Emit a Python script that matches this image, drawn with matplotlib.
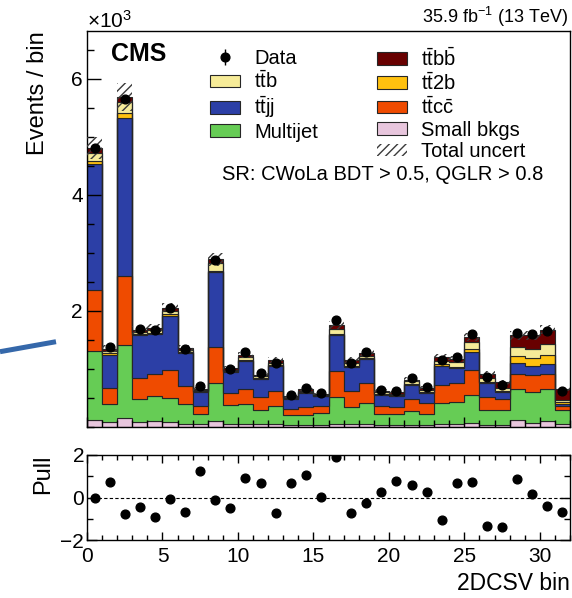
import numpy as np
import matplotlib
matplotlib.use("Agg")
import matplotlib.pyplot as plt
from matplotlib.lines import Line2D
from matplotlib.patches import Patch
from matplotlib.legend_handler import HandlerTuple
from matplotlib.ticker import MultipleLocator

plt.rcParams['font.family'] = ['Liberation Sans', 'DejaVu Sans']
plt.rcParams['mathtext.fontset'] = 'custom'
plt.rcParams['mathtext.rm'] = 'Liberation Sans'
plt.rcParams['mathtext.it'] = 'Liberation Sans:italic'
plt.rcParams['hatch.linewidth'] = 1.0

# 32 bins of the 2DCSV distribution, values in units of 10^3 events
bin_edges = np.arange(33)

small_bkgs = [0.12, 0.07, 0.14, 0.07, 0.09, 0.08, 0.05, 0.04, 0.09, 0.05, 0.05, 0.04, 0.05, 0.03, 0.03, 0.03,
              0.05, 0.04, 0.04, 0.03, 0.03, 0.03, 0.03, 0.04, 0.04, 0.06, 0.03, 0.03, 0.11, 0.06, 0.10, 0.05]
multijet = [1.19, 0.31, 1.27, 0.40, 0.44, 0.41, 0.33, 0.18, 0.66, 0.32, 0.33, 0.25, 0.31, 0.16, 0.17, 0.20,
            0.46, 0.30, 0.37, 0.18, 0.18, 0.23, 0.18, 0.36, 0.39, 0.49, 0.26, 0.26, 0.53, 0.53, 0.54, 0.24]
ttcc = [1.05, 0.29, 1.18, 0.37, 0.38, 0.49, 0.32, 0.13, 0.62, 0.20, 0.27, 0.22, 0.26, 0.11, 0.14, 0.12,
        0.44, 0.27, 0.34, 0.14, 0.13, 0.21, 0.19, 0.32, 0.32, 0.42, 0.22, 0.19, 0.27, 0.29, 0.26, 0.07]
ttjj = [2.16, 0.57, 2.73, 0.73, 0.69, 0.93, 0.57, 0.25, 1.29, 0.37, 0.48, 0.31, 0.42, 0.18, 0.24, 0.17,
        0.62, 0.41, 0.41, 0.19, 0.18, 0.25, 0.18, 0.33, 0.26, 0.32, 0.24, 0.11, 0.19, 0.16, 0.17, 0.03]
tt2b = [0.05, 0.02, 0.09, 0.02, 0.02, 0.03, 0.02, 0.01, 0.03, 0.01, 0.02, 0.01, 0.02, 0.01, 0.01, 0.01,
        0.03, 0.02, 0.02, 0.02, 0.02, 0.02, 0.02, 0.02, 0.02, 0.05, 0.02, 0.03, 0.12, 0.14, 0.17, 0.03]
ttb = [0.15, 0.05, 0.18, 0.04, 0.04, 0.06, 0.03, 0.02, 0.13, 0.03, 0.05, 0.04, 0.04, 0.02, 0.03, 0.02,
       0.08, 0.06, 0.04, 0.03, 0.02, 0.04, 0.03, 0.06, 0.08, 0.11, 0.06, 0.05, 0.15, 0.15, 0.19, 0.03]
ttbb = [0.08, 0.03, 0.09, 0.03, 0.04, 0.05, 0.03, 0.02, 0.06, 0.03, 0.03, 0.02, 0.04, 0.01, 0.02, 0.01,
        0.07, 0.04, 0.05, 0.03, 0.03, 0.03, 0.03, 0.07, 0.06, 0.10, 0.08, 0.09, 0.20, 0.24, 0.24, 0.20]
data = [4.80, 1.37, 5.65, 1.68, 1.66, 2.04, 1.33, 0.69, 2.87, 1.00, 1.28, 0.93, 1.10, 0.54, 0.67, 0.57,
        1.83, 1.09, 1.29, 0.63, 0.62, 0.84, 0.68, 1.15, 1.20, 1.59, 0.85, 0.71, 1.61, 1.60, 1.64, 0.62]
total_unc = [0.19, 0.06, 0.24, 0.07, 0.07, 0.08, 0.06, 0.03, 0.12, 0.04, 0.05, 0.04, 0.05, 0.02, 0.03, 0.02,
             0.07, 0.05, 0.05, 0.03, 0.03, 0.04, 0.03, 0.05, 0.05, 0.07, 0.04, 0.04, 0.08, 0.08, 0.08, 0.03]
pull = [0.00, 0.75, -0.79, -0.44, -0.92, -0.08, -0.70, 1.27, -0.13, -0.48, 0.92, 0.67, -0.73, 0.67, 1.08, 0.03,
        1.89, -0.75, -0.25, 0.27, 0.79, 0.57, 0.25, -1.05, 0.67, 0.73, -1.32, -1.40, 0.86, 0.16, -0.40, -0.67]

# stacked from the bottom up
processes = [
    ("Small bkgs", small_bkgs, "#e8c6dd"),
    ("Multijet", multijet, "#66cc55"),
    (r"$\mathrm{t\bar{t}c\bar{c}}$", ttcc, "#ef4b00"),
    (r"$\mathrm{t\bar{t}jj}$", ttjj, "#2c3fa6"),
    (r"$\mathrm{t\bar{t}2b}$", tt2b, "#ffc10f"),
    (r"$\mathrm{t\bar{t}b}$", ttb, "#f6eb98"),
    (r"$\mathrm{t\bar{t}b\bar{b}}$", ttbb, "#680000"),
]
edge_col = "#262626"
hatch_col = "#3a3a3a"

fig = plt.figure(figsize=(5.72, 5.98), dpi=100)
ax = fig.add_axes([87 / 572, 1 - 426.5 / 598, 483 / 572, 395.5 / 598])
axp = fig.add_axes([87 / 572, 1 - 540 / 598, 483 / 572, 85 / 598])

centers = 0.5 * (bin_edges[:-1] + bin_edges[1:])
bottom = np.zeros(len(centers))
patches = {}
for label, vals, color in processes:
    vals = np.asarray(vals)
    ax.stairs(bottom + vals, bin_edges, baseline=bottom.copy(), fill=True,
              facecolor=color, edgecolor=edge_col, linewidth=0.8)
    patches[label] = Patch(facecolor=color, edgecolor=edge_col, linewidth=0.8)
    bottom = bottom + vals

# total uncertainty band (hatched) around the stack
unc = np.asarray(total_unc)
ax.bar(centers, 2 * unc, bottom=bottom - unc, width=1.0, fill=False, hatch="////",
       edgecolor=hatch_col, linewidth=0, zorder=3)
ax.plot(centers, data, "o", color="black", ms=6.3, zorder=5)

ax.set_xlim(0, 32)
ax.set_ylim(0, 6.82)
ax.set_yticks([2, 4, 6])
ax.yaxis.set_minor_locator(MultipleLocator(0.5))
ax.xaxis.set_major_locator(MultipleLocator(5))
ax.xaxis.set_minor_locator(MultipleLocator(1))
ax.tick_params(axis="both", which="both", direction="in", labelsize=15, width=1)
ax.tick_params(axis="y", which="major", length=10, pad=3)
ax.tick_params(axis="y", which="minor", length=5)
ax.tick_params(axis="x", which="major", length=7, labelbottom=False)
ax.tick_params(axis="x", which="minor", length=5)
for s in ax.spines.values():
    s.set_linewidth(1.0)
ax.set_ylabel("Events / bin", loc="top", fontsize=17)
ax.yaxis.set_label_coords(-0.078, 1.0)

# legends
h_data = (Line2D([], [], marker="o", ls="none", color="black", ms=6.3),
          Line2D([], [], marker="|", ls="none", color="black", ms=12, mew=1.0))
h_unc = Patch(facecolor="none", edgecolor=hatch_col, hatch="////", linewidth=0)
leg_kw = dict(frameon=False, fontsize=14.5, loc="upper left", borderpad=0, borderaxespad=0,
              handlelength=1.5, handleheight=0.6, handletextpad=0.7, labelspacing=0.12)
leg1 = ax.legend([h_data, patches[r"$\mathrm{t\bar{t}b}$"], patches[r"$\mathrm{t\bar{t}jj}$"], patches["Multijet"]],
                 ["Data", r"$\mathrm{t\bar{t}b}$", r"$\mathrm{t\bar{t}jj}$", "Multijet"],
                 bbox_to_anchor=(0.255, 0.955), handler_map={tuple: HandlerTuple(ndivide=1)}, **leg_kw)
ax.add_artist(leg1)
ax.legend([patches[r"$\mathrm{t\bar{t}b\bar{b}}$"], patches[r"$\mathrm{t\bar{t}2b}$"],
           patches[r"$\mathrm{t\bar{t}c\bar{c}}$"], patches["Small bkgs"], h_unc],
          [r"$\mathrm{t\bar{t}b\bar{b}}$", r"$\mathrm{t\bar{t}2b}$", r"$\mathrm{t\bar{t}c\bar{c}}$",
           "Small bkgs", "Total uncert"],
          bbox_to_anchor=(0.600, 0.96), **leg_kw)

ax.text(0.05, 0.942, "CMS", transform=ax.transAxes, fontsize=18, fontweight="bold", va="center", ha="left")
ax.text(0.2795, 0.636, "SR: CWoLa BDT > 0.5, QGLR > 0.8", transform=ax.transAxes,
        fontsize=14.5, va="center", ha="left")
fig.text(87 / 572, 1 - 21 / 598, r"$\times$10$^{3}$", fontsize=15, va="center", ha="left")
fig.text(568 / 572, 1 - 17 / 598, r"35.9 fb$^{-1}$ (13 TeV)", fontsize=13, va="center", ha="right")

# pull panel
axp.axhline(0, color="black", lw=0.8, ls=(0, (3, 2)))
axp.plot(centers, pull, "o", color="black", ms=6.3, zorder=5)
axp.set_xlim(0, 32)
axp.set_ylim(-2, 2)
axp.set_yticks([-2, 0, 2])
axp.set_yticklabels(["\u22122", "0", "2"])
axp.yaxis.set_minor_locator(MultipleLocator(1))
axp.xaxis.set_major_locator(MultipleLocator(5))
axp.xaxis.set_minor_locator(MultipleLocator(1))
axp.tick_params(axis="both", which="both", direction="in", top=True, right=True, labelsize=15, width=1)
axp.tick_params(axis="y", which="major", length=7, pad=2)
axp.tick_params(axis="y", which="minor", length=4)
axp.tick_params(axis="x", which="major", length=6, pad=5)
axp.tick_params(axis="x", which="minor", length=3.5)
for s in axp.spines.values():
    s.set_linewidth(1.0)
axp.set_ylabel("Pull", loc="top", fontsize=17)
axp.yaxis.set_label_coords(-0.068, 1.0)
axp.set_xlabel("2DCSV bin", loc="right", fontsize=16.5, labelpad=4)

# stray blue stroke on the left of the original figure
fig.add_artist(Line2D([0, 56 / 572], [1 - 351.7 / 598, 1 - 341.7 / 598], transform=fig.transFigure,
                      color="#3568aa", lw=3.6, solid_capstyle="butt"))

fig.savefig("out.png", dpi=100)
